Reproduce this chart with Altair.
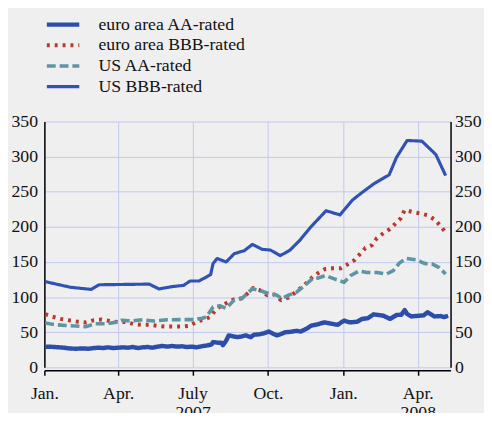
import altair as alt
import pandas as pd

series_names = ["euro area AA-rated", "euro area BBB-rated", "US AA-rated", "US BBB-rated"]
series_colors = ["#2c4ea8", "#b83a2e", "#5e95a3", "#3152b5"]
series_dash = [[1, 0], [3, 5], [9, 4], [1, 0]]
series_width = [4.5, 3.2, 4.5, 2.0]

euro_aa_dates = ["2007-01-02", "2007-01-07", "2007-01-13", "2007-01-19", "2007-01-25", "2007-01-31",
                 "2007-02-08", "2007-02-16", "2007-02-24", "2007-03-02", "2007-03-08", "2007-03-14",
                 "2007-03-20", "2007-03-26", "2007-04-01", "2007-04-07", "2007-04-13", "2007-04-19",
                 "2007-04-25", "2007-05-01", "2007-05-07", "2007-05-13", "2007-05-19", "2007-05-25",
                 "2007-05-31", "2007-06-06", "2007-06-12", "2007-06-18", "2007-06-24", "2007-06-30",
                 "2007-07-06", "2007-07-12", "2007-07-18", "2007-07-24", "2007-07-26", "2007-08-02",
                 "2007-08-05", "2007-08-07", "2007-08-11", "2007-08-14", "2007-08-20", "2007-08-25",
                 "2007-08-30", "2007-09-04", "2007-09-10", "2007-09-14", "2007-09-20", "2007-09-26",
                 "2007-10-02", "2007-10-07", "2007-10-12", "2007-10-17", "2007-10-22", "2007-10-28",
                 "2007-11-05", "2007-11-10", "2007-11-17", "2007-11-21", "2007-11-23", "2007-11-30",
                 "2007-12-04", "2007-12-09", "2007-12-16", "2007-12-25", "2008-01-02", "2008-01-09",
                 "2008-01-18", "2008-01-24", "2008-01-31", "2008-02-07", "2008-02-13", "2008-02-19",
                 "2008-02-27", "2008-03-06", "2008-03-12", "2008-03-16", "2008-03-19", "2008-03-24",
                 "2008-04-03", "2008-04-08", "2008-04-13", "2008-04-21", "2008-04-29", "2008-05-03",
                 "2008-05-08"]
euro_aa_values = [29, 29.5, 29, 28.5, 28, 27, 26.5, 27, 26.5, 27.5, 28, 27.5,
                  28.5, 27.5, 28, 28.5, 28, 29, 27.5, 28.5, 29, 28, 29.5, 30.5,
                  29.5, 30.5, 29.5, 30, 29, 29.5, 28.5, 30, 31, 32.5, 36, 35,
                  35, 31.5, 38, 45.5, 44, 43, 44, 45.5, 43, 46.5, 47, 48.5,
                  51, 48, 45.5, 47.5, 50, 50.5, 52, 51, 55, 58, 59.5, 61,
                  62.5, 64, 62.5, 60.5, 66.5, 64, 65, 69, 70, 75.5, 74.5, 73.5,
                  69, 74.5, 75, 81.5, 76, 72.5, 73.5, 74, 78.5, 72.5, 73, 71.5,
                  73.5]

euro_bbb_dates = ["2007-01-02", "2007-01-11", "2007-01-21", "2007-01-31", "2007-02-11", "2007-02-21",
                  "2007-03-02", "2007-03-12", "2007-03-22", "2007-04-01", "2007-04-11", "2007-04-20",
                  "2007-04-29", "2007-05-10", "2007-05-20", "2007-05-30", "2007-06-08", "2007-06-18",
                  "2007-06-27", "2007-07-06", "2007-07-15", "2007-07-23", "2007-07-29", "2007-08-04",
                  "2007-08-12", "2007-08-20", "2007-08-30", "2007-09-06", "2007-09-13", "2007-09-21",
                  "2007-09-30", "2007-10-09", "2007-10-17", "2007-10-26", "2007-11-05", "2007-11-15",
                  "2007-11-24", "2007-12-01", "2007-12-10", "2007-12-19", "2007-12-29", "2008-01-07",
                  "2008-01-15", "2008-01-22", "2008-01-28", "2008-02-05", "2008-02-11", "2008-02-19",
                  "2008-02-27", "2008-03-05", "2008-03-11", "2008-03-16", "2008-03-26", "2008-04-05",
                  "2008-04-14", "2008-04-22", "2008-04-29", "2008-05-05"]
euro_bbb_values = [75.6, 72, 69, 67, 65, 64, 67, 68, 66, 64.4, 64.4, 61.6,
                   60.6, 60.6, 59, 58, 58, 58, 59, 65, 68, 72, 82, 87,
                   92, 96.6, 98, 105, 113, 110, 102.7, 103.6, 95.7, 99.4, 108, 118,
                   128, 134, 140, 141, 141, 147, 153, 162, 170, 174, 184, 191,
                   197, 205, 212, 224, 221, 219, 216, 210, 201, 192]

us_aa_dates = ["2007-01-02", "2007-01-15", "2007-01-27", "2007-02-08", "2007-02-21", "2007-03-04",
               "2007-03-18", "2007-03-30", "2007-04-05", "2007-04-17", "2007-05-01", "2007-05-15",
               "2007-05-31", "2007-06-16", "2007-07-02", "2007-07-13", "2007-07-18", "2007-07-26",
               "2007-08-03", "2007-08-11", "2007-08-20", "2007-08-31", "2007-09-12", "2007-09-22",
               "2007-10-02", "2007-10-12", "2007-10-18", "2007-10-26", "2007-11-05", "2007-11-15",
               "2007-11-24", "2007-12-02", "2007-12-10", "2007-12-21", "2008-01-02", "2008-01-10",
               "2008-01-20", "2008-01-30", "2008-02-11", "2008-02-23", "2008-03-02", "2008-03-10",
               "2008-03-18", "2008-03-30", "2008-04-09", "2008-04-19", "2008-04-27", "2008-05-05"]
us_aa_values = [63, 60.7, 59.7, 59, 58, 62, 62, 64.4, 67, 66, 67.7, 66,
                67.7, 68, 68, 70, 72, 86, 87.7, 84, 95, 99, 112, 109,
                105, 102.7, 98, 102.7, 107, 116.7, 126, 127.4, 130.7, 126, 121, 130.7,
                137, 135, 135, 133, 137.6, 149, 155, 153, 148, 147, 142, 133]

us_bbb_dates = ["2007-01-02", "2007-02-02", "2007-02-27", "2007-03-09", "2007-05-09", "2007-05-21",
                "2007-06-06", "2007-06-20", "2007-06-28", "2007-07-09", "2007-07-23", "2007-07-26",
                "2007-07-31", "2007-08-11", "2007-08-21", "2007-09-02", "2007-09-12", "2007-09-24",
                "2007-10-04", "2007-10-16", "2007-10-28", "2007-11-09", "2007-11-23", "2007-12-11",
                "2007-12-28", "2008-01-12", "2008-01-24", "2008-02-07", "2008-02-26", "2008-03-06",
                "2008-03-19", "2008-04-06", "2008-04-23", "2008-05-05"]
us_bbb_values = [122, 114, 111, 117.6, 118.5, 111.6, 115, 116.7, 123, 123, 132, 148,
                 155, 150, 162, 166, 175, 168, 167, 159, 167, 181, 200.7, 223,
                 217, 238, 249, 261, 274, 299, 323, 322, 303, 273]

y_ticks = [0, 50, 100, 150, 200, 250, 300, 350]

frames = []
for name, dates, vals in [
    (series_names[0], euro_aa_dates, euro_aa_values),
    (series_names[1], euro_bbb_dates, euro_bbb_values),
    (series_names[2], us_aa_dates, us_aa_values),
    (series_names[3], us_bbb_dates, us_bbb_values),
]:
    frames.append(pd.DataFrame({"date": dates, "value": vals, "series": name}))
df = pd.concat(frames, ignore_index=True)

FONT = "Liberation Serif, Times New Roman, serif"
GRID = "#c3c8ee"
TXT = "#111111"
FS = 18

x_values = [
    alt.DateTime(year=2007, month=1, date=1),
    alt.DateTime(year=2007, month=4, date=1),
    alt.DateTime(year=2007, month=7, date=1),
    alt.DateTime(year=2007, month=10, date=1),
    alt.DateTime(year=2008, month=1, date=1),
    alt.DateTime(year=2008, month=4, date=1),
]
label_expr = (
    "month(datum.value)==6 ? ['July', '2007'] : "
    "(month(datum.value)==3 && year(datum.value)==2008) ? ['Apr.', '2008'] : "
    "month(datum.value)==0 ? 'Jan.' : month(datum.value)==3 ? 'Apr.' : 'Oct.'"
)
x_axis = alt.Axis(
    title=None, values=x_values, labelExpr=label_expr, grid=True, gridColor=GRID,
    gridWidth=1, domainColor="black", domainWidth=1.5, tickColor="black", tickSize=5,
    tickWidth=1.5, offset=3, labelPadding=10, labelFont=FONT, labelFontSize=FS,
    labelColor=TXT, labelAlign="center", labelLineHeight=19, labelFlush=False,
)
x_enc = alt.X(
    "date:T",
    scale=alt.Scale(domain=[alt.DateTime(year=2007, month=1, date=1),
                            alt.DateTime(year=2008, month=5, date=11)]),
    axis=x_axis,
)
y_scale = alt.Scale(domain=[0, 350], nice=False)

lines = alt.Chart(df).mark_line(strokeJoin="round").encode(
    x=x_enc,
    y=alt.Y("value:Q", scale=y_scale, axis=alt.Axis(
        title=None, values=y_ticks, grid=True, gridColor=GRID, gridWidth=1,
        ticks=False, domainColor="black", domainWidth=1.5, labelPadding=7,
        labelFont=FONT, labelFontSize=FS, labelColor=TXT)),
    color=alt.Color("series:N", scale=alt.Scale(domain=series_names, range=series_colors),
                    legend=alt.Legend(
                        title=None, orient="none", legendX=0, legendY=-109,
                        symbolType="stroke", symbolSize=1089, labelFont=FONT,
                        labelFontSize=FS, labelColor=TXT, labelOffset=17,
                        clipHeight=21, rowPadding=0, padding=0, symbolStrokeWidth=3)),
    strokeDash=alt.StrokeDash("series:N", scale=alt.Scale(domain=series_names, range=series_dash)),
    strokeWidth=alt.StrokeWidth("series:N", scale=alt.Scale(domain=series_names, range=series_width)),
    detail="series:N",
)

right_axis = alt.Chart(df).mark_line(opacity=0).encode(
    x=x_enc,
    y=alt.Y("value:Q", scale=y_scale, axis=alt.Axis(
        title=None, orient="right", values=y_ticks, grid=False, ticks=False,
        domainColor="black", domainWidth=1.5, labelPadding=4,
        labelFont=FONT, labelFontSize=FS, labelColor=TXT)),
    detail="series:N",
)

chart = alt.layer(lines, right_axis).resolve_axis(y="independent").properties(
    width=413, height=250,
    padding={"left": 37, "top": 112, "right": 34, "bottom": 43},
    autosize=alt.AutoSizeParams(type="none"),
    background="#efefef",
).configure_view(stroke=None, fill="#efefef")

chart.save("out.html", embed_options={"renderer": "svg", "actions": False})
